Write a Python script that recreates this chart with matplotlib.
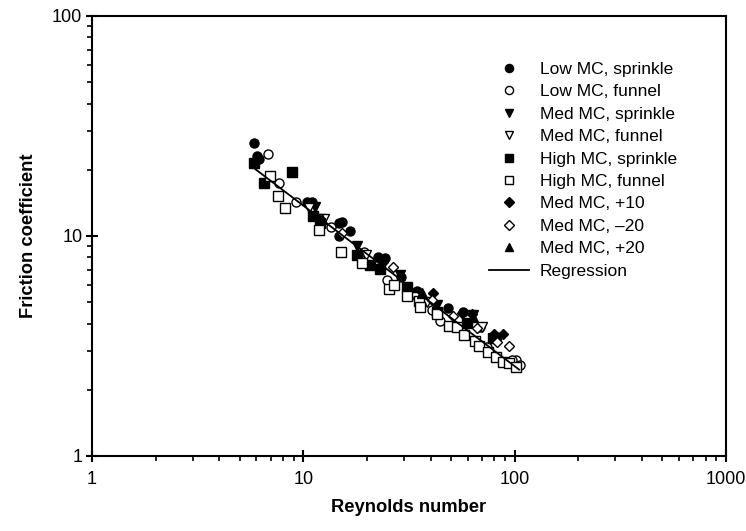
import matplotlib
matplotlib.use("Agg")
import matplotlib.pyplot as plt
import numpy as np

plt.rcParams['font.family'] = ['Liberation Sans', 'DejaVu Sans']

# ---- data (Reynolds number, friction coefficient) ----
low_sprinkle_re = [5.85, 6.02, 6.19, 10.4, 11.0, 14.7, 15.2, 16.6, 14.8, 22.6, 24.4, 29.0, 34.4, 48.6, 57.2, 68.6, 82.2]
low_sprinkle_f  = [26.4, 23.1, 22.3, 14.3, 14.2, 11.5, 11.6, 10.5, 10.0, 8.05, 7.92, 6.53, 5.62, 4.69, 4.53, 3.87, 3.48]

low_funnel_re = [6.83, 7.70, 9.23, 13.5, 19.4, 24.8, 40.5, 44.4, 73.8, 102, 106, 96.9]
low_funnel_f  = [23.6, 17.5, 14.2, 11.0, 8.48, 6.31, 4.61, 4.12, 3.14, 2.73, 2.59, 2.73]

med_sprinkle_re = [11.4, 12.0, 17.9, 28.7, 42.8, 63.8]
med_sprinkle_f  = [13.5, 11.9, 9.01, 6.65, 4.86, 4.37]

med_funnel_re = [10.6, 12.5, 19.8, 33.8, 38.4, 69.9]
med_funnel_f  = [13.4, 11.9, 8.2, 5.30, 5.03, 3.87]

high_sprinkle_re = [5.85, 6.52, 8.87, 11.1, 12.0, 17.9, 20.7, 23.1, 30.8, 42.8, 59.3, 79.3]
high_sprinkle_f  = [21.4, 17.5, 19.6, 12.3, 11.4, 8.2, 7.38, 7.05, 5.89, 4.53, 4.01, 3.43]

high_funnel_re = [6.96, 7.62, 8.19, 11.9, 15.0, 18.9, 25.3, 26.9, 30.8, 35.4, 35.8, 43.1, 49.1, 53.2,
                  57.6, 65.0, 67.5, 75.1, 81.7, 88.5, 94.3, 101.5]
high_funnel_f  = [18.7, 15.2, 13.4, 10.6, 8.48, 7.57, 5.72, 5.99, 5.34, 5.08, 4.74, 4.42, 3.90, 3.87,
                  3.55, 3.34, 3.16, 2.98, 2.83, 2.68, 2.64, 2.55]

med_p10_re = [23.9, 41.0, 56.1, 62.7, 80.1, 88.5]
med_p10_f  = [7.64, 5.49, 4.48, 4.42, 3.59, 3.59]

med_m20_re = [15.2, 26.5, 40.5, 51.3, 66.6, 82.2, 94.3]
med_m20_f  = [10.3, 7.21, 5.12, 4.33, 3.83, 3.31, 3.16]

med_p20_re = [12.2, 36.3, 63.8]
med_p20_f  = [11.9, 5.49, 4.30]

# regression f = a * Re^b
reg_a = 73.8
reg_b = -0.73
reg_re_range = [5.85, 105.0]

fig = plt.figure(figsize=(7.46, 5.31), dpi=100)
ax = fig.add_axes([92/746, 1-456/531, (726-92)/746, (456-16)/531])

ms = 6.5
series = [
    (low_sprinkle_re, low_sprinkle_f, 'o', 'black', 'Low MC, sprinkle'),
    (low_funnel_re, low_funnel_f, 'o', 'white', 'Low MC, funnel'),
    (med_sprinkle_re, med_sprinkle_f, 'v', 'black', 'Med MC, sprinkle'),
    (med_funnel_re, med_funnel_f, 'v', 'white', 'Med MC, funnel'),
    (high_sprinkle_re, high_sprinkle_f, 's', 'black', 'High MC, sprinkle'),
    (high_funnel_re, high_funnel_f, 's', 'white', 'High MC, funnel'),
    (med_p10_re, med_p10_f, 'D', 'black', 'Med MC, +10'),
    (med_m20_re, med_m20_f, 'D', 'white', 'Med MC, \u201320'),
    (med_p20_re, med_p20_f, '^', 'black', 'Med MC, +20'),
]
handles = []
for xs, ys, m, fc, lab in series:
    size = ms * 0.85 if m == 'D' else ms
    h, = ax.plot(xs, ys, linestyle='none', marker=m, markersize=size,
                 markerfacecolor=fc, markeredgecolor='black', markeredgewidth=1.0,
                 label=lab)
    handles.append(h)

rx = np.logspace(np.log10(reg_re_range[0]), np.log10(reg_re_range[1]), 50)
hr, = ax.plot(rx, reg_a * rx ** reg_b, color='black', linewidth=1.3, label='Regression')
handles.append(hr)

ax.set_xscale('log')
ax.set_yscale('log')
ax.set_xlim(1, 1000)
ax.set_ylim(1, 100)
ax.set_xticks([1, 10, 100, 1000])
ax.set_xticklabels(['1', '10', '100', '1000'])
ax.set_yticks([1, 10, 100])
ax.set_yticklabels(['1', '10', '100'])

for s in ax.spines.values():
    s.set_linewidth(1.5)
ax.tick_params(which='major', direction='inout', length=8, width=1.5, labelsize=13, pad=3)
ax.tick_params(which='minor', direction='out', length=3.5, width=1.2)
ax.tick_params(axis='x', which='major', pad=7)

ax.set_xlabel('Reynolds number', fontsize=13.2, fontweight='bold', labelpad=8)
ax.set_ylabel('Friction coefficient', fontsize=13.2, fontweight='bold', labelpad=11)

leg = ax.legend(handles=handles, loc='upper left', bbox_to_anchor=(0.616, 0.912),
                frameon=False, fontsize=12.5, labelspacing=0.42, handlelength=2.3,
                handletextpad=0.6, markerscale=0.9, borderaxespad=0)

fig.savefig('out.png', dpi=100)
